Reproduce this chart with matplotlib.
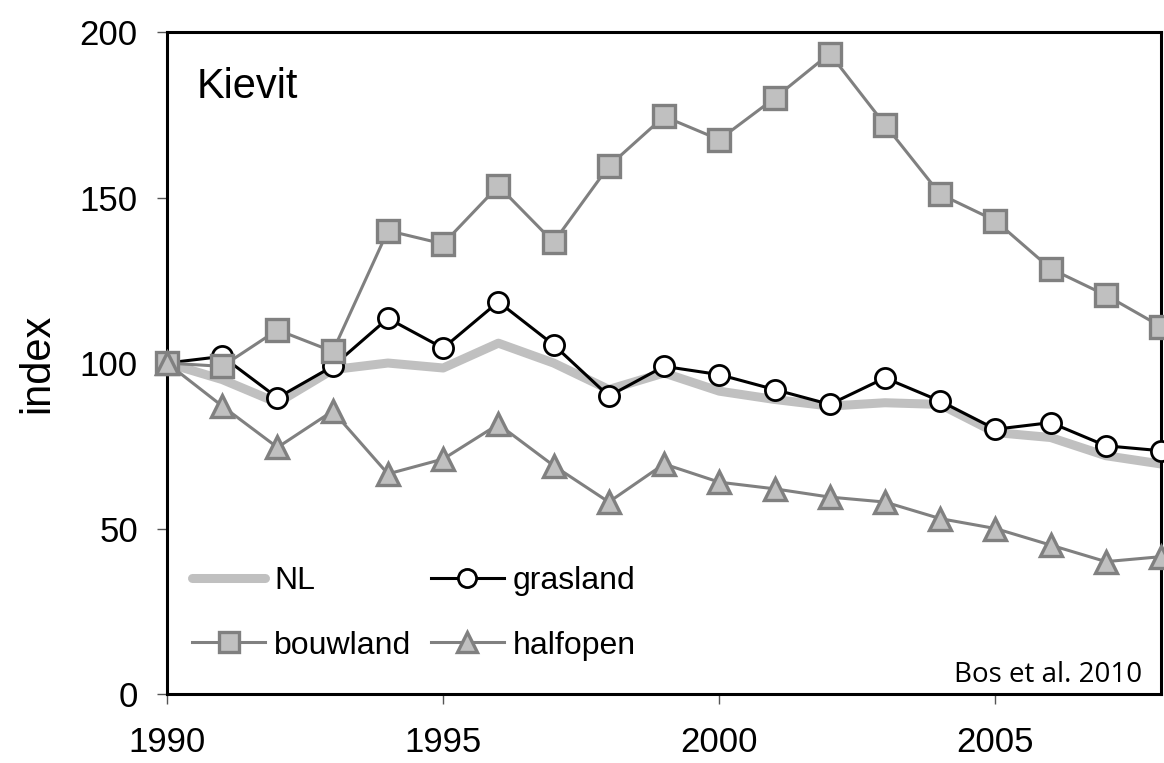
import matplotlib.pyplot as plt

plt.rcParams['font.family'] = ['Liberation Sans', 'DejaVu Sans']

years = list(range(1990, 2009))

# index values (1990 = 100)
nl = [100, 95, 88, 98, 100, 98.5, 106, 100, 92, 97, 91.5, 89, 87, 88, 87.5, 79, 77.5, 72, 69.5]
grasland = [100, 102, 89.5, 99, 113.5, 104.5, 118.5, 105.5, 90, 99, 96.5, 92, 87.5, 95.5, 88.5, 80, 82, 75, 73.5]
bouwland = [100, 99, 110, 103.5, 140, 136, 153.5, 136.5, 159.5, 174.5, 167.5, 180, 193.5, 172, 151, 143, 128.5, 120.5, 111]
halfopen = [100, 87, 74.5, 85.5, 66.5, 71, 81.5, 69, 58, 69.5, 64, 62, 59.5, 58, 53, 50, 45, 40, 41.5]

xticks = [1990, 1995, 2000, 2005]
yticks = [0, 50, 100, 150, 200]

fig = plt.figure(figsize=(11.64, 7.63), dpi=100)
ax = fig.add_axes([0.1435, 0.0904, 0.8540, 0.8676])

l_nl, = ax.plot(years, nl, color='#c0c0c0', lw=6.5, solid_capstyle='round', label='NL', zorder=2)
l_gr, = ax.plot(years, grasland, color='black', lw=2.2, marker='o', ms=14.5,
                mfc='white', mec='black', mew=2.0, label='grasland', zorder=3, clip_on=False)
l_bw, = ax.plot(years, bouwland, color='#808080', lw=2.2, marker='s', ms=15.5,
                mfc='#c0c0c0', mec='#808080', mew=2.4, label='bouwland', zorder=4, clip_on=False)
l_hf, = ax.plot(years, halfopen, color='#808080', lw=2.2, marker='^', ms=16,
                mfc='#c0c0c0', mec='#808080', mew=2.4, label='halfopen', zorder=5, clip_on=False)

ax.set_xlim(1990, 2008)
ax.set_ylim(0, 200)
ax.set_xticks(xticks)
ax.set_yticks(yticks)
ax.tick_params(axis='x', direction='out', length=7, width=1, color='#555555', pad=16, labelsize=25)
ax.tick_params(axis='y', direction='out', length=7, width=1, color='#555555', pad=14, labelsize=25)
for s in ax.spines.values():
    s.set_linewidth(2.2)
ax.set_ylabel('index', fontsize=30, labelpad=16)

ax.text(0.030, 0.900, 'Kievit', transform=ax.transAxes, fontsize=30, va='baseline', ha='left')
ax.text(0.981, 0.018, 'Bos et al. 2010', transform=ax.transAxes, fontsize=20,
        ha='right', va='baseline', family=['Open Sans', 'DejaVu Sans'])

ax.legend([l_nl, l_bw, l_gr, l_hf], ['NL', 'bouwland', 'grasland', 'halfopen'],
          ncol=2, loc='lower left', bbox_to_anchor=(-0.004, 0.007), frameon=False,
          fontsize=23, handlelength=2.3, handletextpad=0.28, columnspacing=0.6,
          labelspacing=1.08, markerscale=0.9)

fig.savefig('out.png', dpi=100)
